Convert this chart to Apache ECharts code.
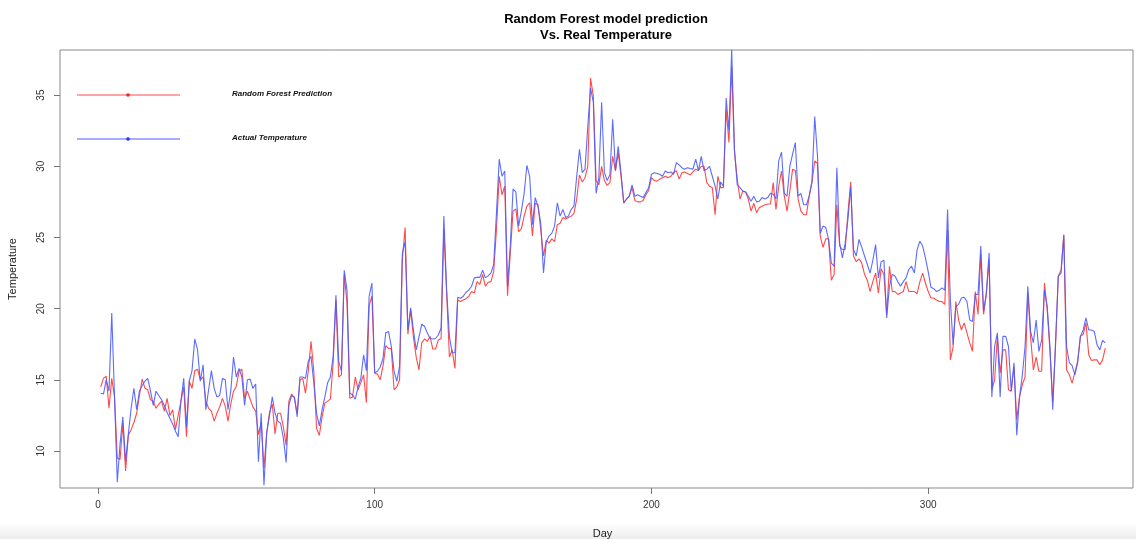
<!DOCTYPE html>
<html>
<head>
<meta charset="utf-8">
<script src="https://cdn.jsdelivr.net/npm/echarts@6/dist/echarts.min.js"></script>
<style>
  html,body{margin:0;padding:0;background:#fff;}
  #chart{width:1136px;height:539px;}
</style>
</head>
<body>
<div id="chart"></div>
<script>
  // day index starts at 1
  var actual=[14.06,14.0,15.0,14.2,19.7,13.8,7.8,10.5,12.4,9.25,11.2,13.0,14.4,12.9,14.2,14.6,14.9,15.1,14.2,13.2,
    14.2,13.9,13.6,13.2,12.7,12.3,11.9,11.4,11.0,13.5,15.1,11.7,14.9,15.65,17.87,17.1,14.9,16.06,12.9,14.3,
    15.65,14.4,13.8,13.9,15.1,15.0,12.9,14.2,16.6,15.2,15.8,15.2,13.2,15.0,15.05,14.4,14.7,9.25,12.65,7.6,
    11.3,12.5,13.8,12.65,12.1,11.95,10.9,9.2,13.2,13.9,13.8,12.4,15.2,15.2,15.1,16.3,16.65,14.8,12.65,11.76,
    12.9,13.8,14.8,15.2,16.65,20.94,16.3,15.6,22.7,21.3,14.06,13.95,13.64,14.5,15.1,16.76,15.65,20.87,21.8,15.5,
    15.6,15.9,16.5,18.3,18.4,17.35,15.6,14.9,15.96,23.9,24.7,18.5,20.05,18.5,17.1,18.0,18.9,18.76,18.3,17.9,
    17.87,17.9,18.15,18.64,26.5,21.3,18.05,16.9,16.9,20.8,20.73,20.87,21.15,21.3,21.57,22.16,22.2,22.2,22.7,22.16,
    22.3,22.5,23.1,26.7,30.5,29.3,29.67,21.57,24.4,28.4,28.2,25.8,26.85,28.1,30.07,29.3,25.9,27.8,27.2,26.0,
    22.5,24.7,25.1,25.3,25.8,27.44,26.5,26.97,26.4,26.5,26.97,27.2,29.3,31.2,29.56,29.8,32.8,35.5,34.5,28.1,
    29.2,34.5,29.56,29.0,29.4,33.3,29.7,31.4,29.56,27.44,27.7,27.9,28.7,27.9,28.0,27.9,27.8,28.15,28.5,29.44,
    29.55,29.5,29.44,29.3,29.67,29.55,29.6,29.44,30.26,30.1,29.9,29.8,29.9,29.85,29.8,30.5,29.7,30.7,29.7,29.8,
    30.0,29.3,28.6,27.7,28.9,28.6,34.8,32.5,38.2,31.2,28.7,28.5,28.26,28.2,27.9,27.55,27.9,27.5,27.55,27.8,
    27.7,27.8,28.1,28.03,27.7,30.4,31.0,28.1,27.9,30.0,30.85,31.67,27.9,28.1,27.3,27.3,27.9,28.96,33.5,30.7,
    25.3,25.8,25.7,24.86,23.2,22.98,29.9,24.6,23.57,24.6,26.27,28.57,24.15,23.7,24.86,24.3,23.7,23.1,22.5,23.4,
    24.5,22.16,23.3,23.4,19.35,21.57,22.4,22.3,21.9,21.57,21.9,22.16,22.75,22.98,22.5,24.15,24.74,24.4,23.57,22.6,
    21.5,21.4,21.2,21.3,21.46,21.3,26.97,20.6,17.46,20.16,20.3,20.75,20.8,20.5,19.2,19.1,21.0,21.0,24.4,19.8,
    21.1,23.9,13.8,17.34,18.3,13.8,18.05,18.05,17.34,14.2,16.2,11.1,13.8,15.3,17.34,21.57,18.4,17.6,19.2,17.0,
    17.8,21.3,20.16,17.34,12.9,17.6,22.27,22.5,25.14,17.34,16.2,16.0,15.35,16.2,18.05,18.5,19.35,18.5,18.5,18.4,
    17.46,17.1,17.77,17.6]
  var predicted=[14.5,15.1,15.25,13.0,15.1,13.8,9.5,9.4,11.95,8.6,11.1,11.5,12.0,12.65,13.9,15.05,14.4,14.3,13.6,13.5,
    13.0,13.3,13.5,12.8,13.7,12.5,12.9,11.5,12.5,13.5,14.5,11.0,14.9,14.4,15.65,15.75,15.0,15.2,13.5,13.0,
    12.8,12.1,12.65,13.1,13.7,13.15,12.1,13.3,14.2,14.55,15.6,15.75,13.7,14.2,13.65,13.1,12.8,11.15,12.0,8.8,
    11.3,12.7,13.3,11.2,12.65,12.65,11.7,10.4,13.5,14.0,13.7,12.65,15.0,15.1,14.06,15.6,17.7,15.6,11.6,11.1,
    12.4,13.36,13.5,13.64,16.2,20.6,15.2,15.35,22.4,20.4,13.7,13.8,15.2,14.3,14.8,15.35,13.4,20.2,20.9,15.45,
    15.4,15.0,15.96,17.4,17.2,17.2,14.3,14.5,15.0,23.45,25.7,18.2,19.9,18.0,16.6,15.7,17.6,17.87,17.7,18.05,
    17.16,17.16,17.8,17.9,25.56,21.1,16.6,17.1,15.8,20.6,20.5,20.6,20.7,20.87,21.2,21.1,21.9,21.7,22.4,21.57,
    21.85,21.9,22.6,25.56,29.3,28.0,28.6,20.9,23.9,26.85,27.0,25.4,25.6,26.5,27.2,27.44,25.1,27.4,27.3,25.56,
    23.7,24.8,24.6,24.9,24.7,25.9,26.0,26.4,26.3,26.4,26.5,26.7,27.7,29.4,28.9,29.2,30.0,36.2,34.95,29.0,
    28.7,30.0,29.0,28.66,28.85,30.7,29.7,30.96,29.3,27.4,27.7,27.9,28.5,27.6,27.5,27.5,27.6,28.0,28.3,29.2,
    29.0,28.96,29.1,29.2,29.3,29.2,29.3,29.55,29.7,29.1,29.55,29.6,29.5,29.4,29.6,29.8,29.7,30.0,30.0,28.85,
    28.6,28.5,26.6,29.3,28.5,28.5,34.0,31.67,36.95,31.0,29.1,27.7,28.26,28.2,27.7,26.85,27.4,26.74,27.1,27.2,
    27.3,27.35,27.35,28.85,26.97,28.6,29.67,27.9,26.85,28.26,29.8,29.7,27.7,26.85,26.6,26.6,27.9,28.85,30.37,30.2,
    25.1,24.3,24.9,24.9,22.0,22.4,27.3,24.4,24.15,24.15,26.74,28.9,23.7,23.3,23.5,23.2,22.4,22.0,21.2,21.9,
    22.5,21.1,22.8,22.4,19.6,22.98,21.2,21.2,21.0,21.1,21.2,21.9,21.2,21.2,21.2,21.05,21.9,22.5,21.8,21.2,
    20.75,20.75,20.6,20.5,20.5,20.3,25.56,16.4,17.3,20.5,19.2,18.5,19.0,18.3,17.6,17.0,21.2,19.6,23.8,19.6,
    21.0,23.45,14.3,15.0,18.05,15.47,17.1,17.1,14.3,14.2,15.94,12.2,13.8,14.65,15.2,21.1,18.0,15.7,16.6,15.6,
    15.6,21.8,19.9,17.0,13.5,17.3,22.27,22.7,25.2,15.7,15.35,14.77,15.5,16.3,18.05,18.2,19.0,16.76,16.36,16.4,
    16.4,16.06,16.4,17.23]
  var xTicks=[0,100,200,300]
  var yTicks=[10,15,20,25,30,35]
  var seriesNames=['Random Forest Prediction','Actual Temperature']

  var chart=echarts.init(document.getElementById('chart'))

  var toPairs=function (arr) {
    var out=[]
    arr.forEach(function (v,i) {
      out.push([i+1,v])
    })
    return out
  }

  var font='"Liberation Sans", Arial, sans-serif'

  var option={
    animation:false,
    title:{
      text:'Random Forest model prediction\nVs. Real Temperature',
      left:601,
      top:6,
      textAlign:'center',
      textStyle:{fontFamily:font,fontSize:13,fontWeight:'bold',color:'#000',lineHeight:16}
    },
    grid:{
      left:60,right:3,top:50,bottom:51,
      outerBoundsMode:'none',
      containLabel:false,
      show:true,borderColor:'#8a8a8a',borderWidth:1
    },
    xAxis:{
      type:'value',
      min:-13.7,
      max:374,
      name:'Day',
      nameLocation:'middle',
      nameGap:40,
      nameTextStyle:{fontFamily:font,fontSize:11,color:'#222',padding:[0,0,0,12]},
      axisLine:{show:false,onZero:false},
      axisTick:{show:true,customValues:xTicks,length:6,lineStyle:{color:'#777'}},
      axisLabel:{customValues:xTicks,margin:12,fontFamily:font,fontSize:10,color:'#333'},
      splitLine:{show:false}
    },
    yAxis:{
      type:'value',
      min:7.4,
      max:38.17,
      name:'Temperature',
      nameLocation:'middle',
      nameGap:42,
      nameTextStyle:{fontFamily:font,fontSize:11,color:'#222'},
      axisLine:{show:false,onZero:false},
      axisTick:{show:true,customValues:yTicks,length:6,lineStyle:{color:'#777'}},
      axisLabel:{customValues:yTicks,rotate:90,margin:14,fontFamily:font,fontSize:10,color:'#333'},
      splitLine:{show:false}
    },
    graphic:[
      {type:'line',shape:{x1:77,y1:95,x2:180,y2:95},style:{stroke:'#ff4a4a',lineWidth:1}},
      {type:'circle',shape:{cx:128,cy:95,r:1.8},style:{fill:'#ff2020'}},
      {type:'text',left:232,top:90,style:{text:seriesNames[0],font:'italic bold 8px "Liberation Sans", Arial',fill:'#111'}},
      {type:'line',shape:{x1:77,y1:139,x2:180,y2:139},style:{stroke:'#4a5cff',lineWidth:1}},
      {type:'circle',shape:{cx:128,cy:139,r:1.8},style:{fill:'#2030ff'}},
      {type:'text',left:232,top:134,style:{text:seriesNames[1],font:'italic bold 8px "Liberation Sans", Arial',fill:'#111'}},
      {type:'rect',left:0,top:523,shape:{width:1136,height:16},silent:true,z:-1,
        style:{fill:new echarts.graphic.LinearGradient(0,0,0,1,[{offset:0,color:'#ffffff'},{offset:1,color:'#ececec'}])}}
    ],
    series:[
      {
        name:seriesNames[0],
        type:'line',
        data:toPairs(predicted),
        showSymbol:false,
        lineStyle:{color:'#ff4a4a',width:1.1},
        z:2
      },
      {
        name:seriesNames[1],
        type:'line',
        data:toPairs(actual),
        showSymbol:false,
        lineStyle:{color:'#4a5cff',width:1.1,opacity:0.9},
        z:3
      }
    ]
  }

  chart.setOption(option)
</script>
</body>
</html>
